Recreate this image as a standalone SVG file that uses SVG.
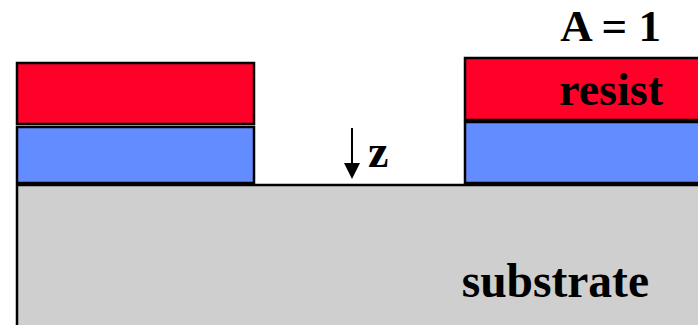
<svg xmlns="http://www.w3.org/2000/svg" width="698" height="325" viewBox="0 0 698 325">
<defs>
<style>
.red{fill:#FF0028;stroke:#000;stroke-width:2.5}
.blue{fill:#628CFF;stroke:#000;stroke-width:2.5}
.sub{fill:#CFCFCF;stroke:#000;stroke-width:2.5}
.t{font-family:"Liberation Serif","Times New Roman",serif;font-weight:bold;font-size:46px;fill:#000}
</style>
</defs>
<g id="substrate">
<rect class="sub" x="17" y="185" width="700" height="160"/>
<text class="t" x="649" y="297" text-anchor="end" style="font-size:47.5px">substrate</text>
</g>
<g id="left-stack">
<rect class="red" x="17" y="63" width="237" height="61"/>
<rect class="blue" x="17" y="127" width="237" height="56"/>
</g>
<g id="right-stack">
<rect class="red" x="465" y="58" width="250" height="62"/>
<rect class="blue" x="465" y="122" width="250" height="61"/>
<text class="t" x="663" y="105" text-anchor="end">resist</text>
</g>
<g id="label-A">
<text class="t" x="661" y="41" text-anchor="end" style="font-size:45px">A = 1</text>
</g>
<g id="connectors">
<line x1="352" y1="128" x2="352" y2="165" stroke="#000" stroke-width="2"/>
<path d="M344,163 L360,163 L352,179 Z" fill="#000"/>
</g>
<g id="label-z">
<text class="t" x="368" y="167">z</text>
</g>
</svg>
